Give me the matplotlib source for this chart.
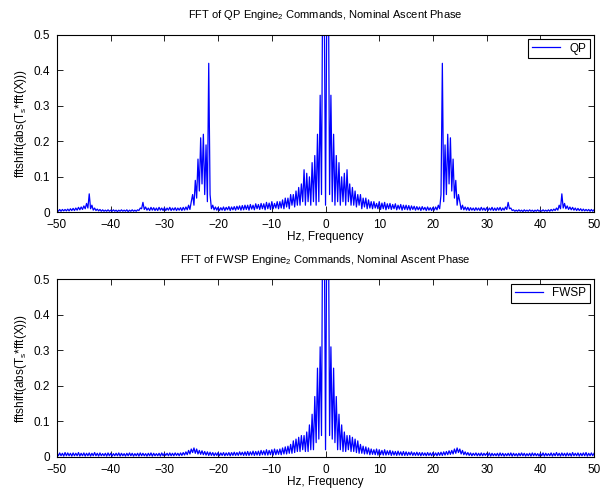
import numpy as np
import matplotlib
matplotlib.use("Agg")
from matplotlib import pyplot as plt

plt.rcParams['font.family'] = ['Liberation Sans', 'DejaVu Sans']
plt.rcParams['mathtext.default'] = 'regular'

# one-sided |FFT| magnitudes, 0..50 Hz in 0.25 Hz bins (spectrum of a real signal is symmetric)
bin_step = 0.25
qp_pos = [
    0.02, 0.62, 0.75, 0.05, 0.33, 0.03, 0.22, 0.02, 0.16, 0.03, 0.14, 0.02, 0.10, 0.03, 0.11, 0.02, 0.12, 0.03, 0.08, 0.02,
    0.07, 0.02, 0.06, 0.015, 0.05, 0.02, 0.05, 0.01, 0.04, 0.015, 0.04, 0.01, 0.035, 0.012, 0.03, 0.01, 0.03, 0.012, 0.025, 0.01,
    0.03, 0.008, 0.026, 0.01, 0.028, 0.007, 0.024, 0.01, 0.025, 0.008, 0.022, 0.01, 0.024, 0.007, 0.02, 0.009, 0.022, 0.006, 0.02, 0.008,
    0.02, 0.007, 0.019, 0.006, 0.018, 0.008, 0.017, 0.006, 0.016, 0.007, 0.015, 0.005, 0.016, 0.007, 0.014, 0.005, 0.015, 0.006, 0.013, 0.005,
    0.014, 0.006, 0.015, 0.007, 0.02, 0.01, 0.05, 0.42, 0.03, 0.19, 0.05, 0.22, 0.08, 0.21, 0.06, 0.15, 0.04, 0.09, 0.02, 0.05,
    0.03, 0.008, 0.02, 0.007, 0.015, 0.006, 0.014, 0.005, 0.013, 0.006, 0.012, 0.005, 0.013, 0.006, 0.012, 0.005, 0.014, 0.006, 0.012, 0.005,
    0.013, 0.005, 0.012, 0.006, 0.014, 0.005, 0.012, 0.005, 0.013, 0.006, 0.014, 0.005, 0.012, 0.006, 0.015, 0.008, 0.028, 0.01, 0.012, 0.005,
    0.007, 0.003, 0.006, 0.003, 0.007, 0.003, 0.006, 0.002, 0.007, 0.003, 0.006, 0.003, 0.007, 0.003, 0.006, 0.002, 0.006, 0.003, 0.007, 0.003,
    0.006, 0.003, 0.007, 0.003, 0.006, 0.003, 0.007, 0.003, 0.008, 0.004, 0.009, 0.005, 0.012, 0.006, 0.02, 0.01, 0.052, 0.012, 0.025, 0.01,
    0.018, 0.008, 0.015, 0.007, 0.014, 0.006, 0.012, 0.005, 0.011, 0.005, 0.01, 0.004, 0.009, 0.004, 0.008, 0.004, 0.008, 0.003, 0.008, 0.003,
    0.007]
fwsp_pos = [
    0.02, 0.7, 0.8, 0.06, 0.31, 0.05, 0.25, 0.04, 0.17, 0.02, 0.12, 0.02, 0.09, 0.015, 0.07, 0.015, 0.06, 0.02, 0.06, 0.015,
    0.055, 0.015, 0.05, 0.012, 0.045, 0.01, 0.035, 0.01, 0.03, 0.008, 0.028, 0.008, 0.025, 0.006, 0.022, 0.007, 0.02, 0.006, 0.022, 0.005,
    0.02, 0.006, 0.018, 0.005, 0.02, 0.005, 0.017, 0.006, 0.018, 0.004, 0.016, 0.005, 0.015, 0.004, 0.016, 0.005, 0.014, 0.004, 0.015, 0.004,
    0.014, 0.004, 0.013, 0.005, 0.014, 0.004, 0.012, 0.004, 0.013, 0.004, 0.012, 0.003, 0.012, 0.004, 0.011, 0.003, 0.012, 0.004, 0.011, 0.003,
    0.012, 0.004, 0.011, 0.003, 0.012, 0.004, 0.013, 0.004, 0.014, 0.005, 0.015, 0.006, 0.017, 0.007, 0.018, 0.008, 0.022, 0.01, 0.025, 0.012,
    0.022, 0.008, 0.018, 0.006, 0.014, 0.005, 0.012, 0.004, 0.011, 0.003, 0.01, 0.004, 0.011, 0.003, 0.01, 0.003, 0.011, 0.003, 0.01, 0.004,
    0.01, 0.003, 0.011, 0.002, 0.01, 0.003, 0.009, 0.003, 0.01, 0.002, 0.011, 0.003, 0.01, 0.002, 0.009, 0.003, 0.01, 0.003, 0.011, 0.002,
    0.01, 0.003, 0.009, 0.002, 0.01, 0.003, 0.011, 0.003, 0.01, 0.002, 0.009, 0.003, 0.01, 0.002, 0.011, 0.003, 0.01, 0.003, 0.009, 0.002,
    0.01, 0.003, 0.011, 0.002, 0.01, 0.003, 0.009, 0.003, 0.011, 0.002, 0.01, 0.003, 0.012, 0.003, 0.01, 0.002, 0.011, 0.003, 0.01, 0.002,
    0.011, 0.003, 0.01, 0.002, 0.012, 0.003, 0.01, 0.003, 0.011, 0.002, 0.01, 0.003, 0.011, 0.003, 0.012, 0.002, 0.01, 0.003, 0.011, 0.003,
    0.01]

titles = ["FFT of QP Engine$_2$ Commands, Nominal Ascent Phase",
          "FFT of FWSP Engine$_2$ Commands, Nominal Ascent Phase"]
labels = ["QP", "FWSP"]
xlabel = "Hz, Frequency"
ylabel = "fftshift(abs(T$_s$*fft(X)))"


def two_sided(pos):
    pos = np.asarray(pos)
    return np.concatenate([pos[:0:-1], pos])  # mirror about 0 Hz, like fftshift


freq_pos = np.arange(len(qp_pos)) * bin_step
freq = np.concatenate([-freq_pos[:0:-1], freq_pos])

fig = plt.figure(figsize=(6.11, 4.92), dpi=100)
axes = [fig.add_axes([0.0933, 0.5685, 0.8790, 0.3605]),
        fig.add_axes([0.0933, 0.0715, 0.8790, 0.3605])]

for ax, series, title, lab in zip(axes, [qp_pos, fwsp_pos], titles, labels):
    ax.plot(freq, two_sided(series), color='blue', lw=0.9, label=lab)
    ax.set_xlim(-50, 50)
    ax.set_ylim(0, 0.5)
    ax.set_xticks(np.arange(-50, 51, 10))
    ax.set_yticks([0, 0.1, 0.2, 0.3, 0.4, 0.5])
    ax.set_yticklabels(["0", "0.1", "0.2", "0.3", "0.4", "0.5"])
    ax.tick_params(direction='in', top=True, right=True, length=4, width=0.6, labelsize=8.5)
    ax.tick_params(axis='x', pad=5)
    ax.tick_params(axis='y', pad=5)
    for s in ax.spines.values(): s.set_linewidth(0.8)
    ax.set_title(title, fontsize=8, pad=12)
    ax.set_xlabel(xlabel, fontsize=8.5, labelpad=0)
    ax.set_ylabel(ylabel, fontsize=8.5, labelpad=3)
    leg = ax.legend(loc='upper right', fontsize=8.5, fancybox=False, framealpha=1, edgecolor='black',
                    handlelength=2.4, borderaxespad=0.35, borderpad=0.3)
    leg.get_frame().set_linewidth(0.8)

fig.savefig("out.png", dpi=100)
